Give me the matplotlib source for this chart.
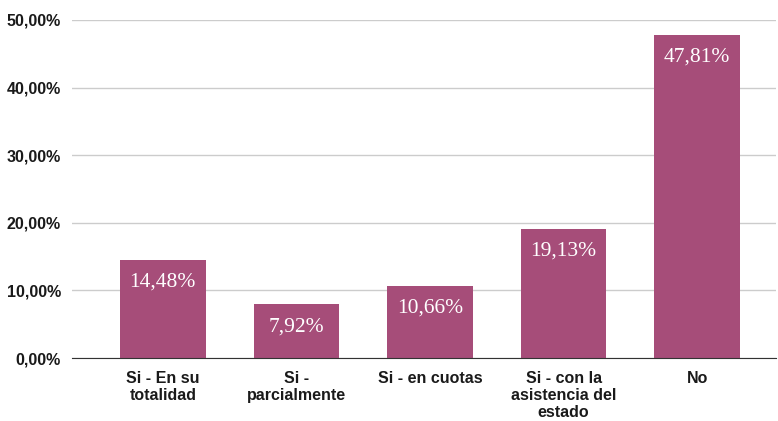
import matplotlib.pyplot as plt
from matplotlib.ticker import FuncFormatter

categorias = ['Si - En su\ntotalidad', 'Si -\nparcialmente', 'Si - en cuotas',
              'Si - con la\nasistencia del\nestado', 'No']
valores = [14.48, 7.92, 10.66, 19.13, 47.81]
etiquetas = ['14,48%', '7,92%', '10,66%', '19,13%', '47,81%']
yticks = [0, 10, 20, 30, 40, 50]

fig = plt.figure(figsize=(7.78, 4.21), dpi=100)
ax = fig.add_axes([0.0925, 0.1496, 0.905, 0.803])

x = range(len(valores))
barras = ax.bar(x, valores, width=0.64, color='#a64d79', zorder=3)

for b, txt in zip(barras, etiquetas):
    ax.text(b.get_x() + b.get_width() / 2, b.get_height() - 1.9, txt,
            ha='center', va='top', color='white', fontsize=15.5,
            family='Liberation Serif', zorder=4)

ax.set_xlim(-0.68, 4.59)
ax.set_ylim(0, 50)
ax.set_yticks(yticks)
ax.yaxis.set_major_formatter(FuncFormatter(lambda v, p: f'{v:.2f}%'.replace('.', ',')))
ax.grid(axis='y', color='#cccccc', linewidth=1, zorder=0)
ax.set_xticks(list(x))
ax.set_xticklabels(categorias, fontsize=11.5, fontweight='bold', family='Liberation Sans',
                   linespacing=1.2, va='top')
for lbl in ax.get_yticklabels():
    lbl.set_fontsize(11.5)
    lbl.set_fontweight('bold')
    lbl.set_family('Liberation Sans')

for s in ['top', 'right', 'left']:
    ax.spines[s].set_visible(False)
ax.spines['bottom'].set_color('#333333')
ax.spines['bottom'].set_zorder(5)
ax.tick_params(axis='both', length=0, pad=8, colors='#1a1a1a')
ax.tick_params(axis='x', pad=9)

plt.savefig('out.png', dpi=100)
